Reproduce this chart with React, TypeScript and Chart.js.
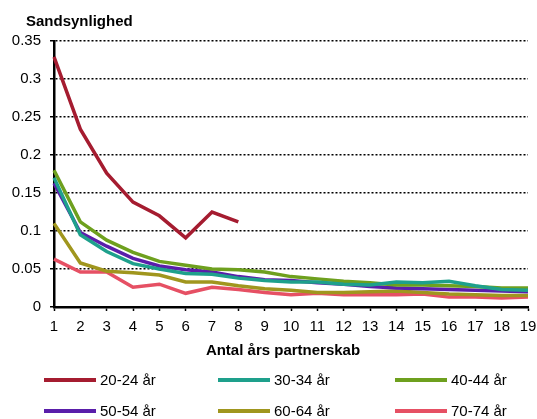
import React, { useEffect, useRef } from "react";
import { Chart, registerables } from "chart.js";

Chart.register(...registerables);

const categories = ["1","2","3","4","5","6","7","8","9","10","11","12","13","14","15","16","17","18","19"];
const seriesNames = ["20-24 år", "30-34 år", "40-44 år", "50-54 år", "60-64 år", "70-74 år"];
const seriesColors = ["#A51C30", "#1EA08C", "#6EA01E", "#5A1EAA", "#A0961E", "#E65064"];

const s2024 = [0.329, 0.234, 0.176, 0.138, 0.12, 0.091, 0.125, 0.112];
const s3034 = [0.17, 0.095, 0.073, 0.057, 0.05, 0.044, 0.043, 0.038, 0.035, 0.033, 0.033, 0.03, 0.029, 0.033, 0.032, 0.034, 0.028, 0.023, 0.022];
const s4044 = [0.18, 0.112, 0.088, 0.072, 0.06, 0.055, 0.05, 0.049, 0.046, 0.04, 0.037, 0.034, 0.032, 0.029, 0.029, 0.028, 0.027, 0.025, 0.025];
const s5054 = [0.163, 0.098, 0.08, 0.064, 0.054, 0.049, 0.046, 0.04, 0.036, 0.035, 0.032, 0.03, 0.027, 0.025, 0.024, 0.023, 0.022, 0.021, 0.02];
const s6064 = [0.11, 0.058, 0.047, 0.045, 0.042, 0.033, 0.033, 0.028, 0.024, 0.022, 0.019, 0.019, 0.02, 0.021, 0.019, 0.017, 0.016, 0.015, 0.015];
const s7074 = [0.063, 0.046, 0.046, 0.026, 0.03, 0.018, 0.026, 0.023, 0.019, 0.016, 0.018, 0.016, 0.016, 0.016, 0.017, 0.013, 0.013, 0.012, 0.013];
const seriesValues = [s2024, s3034, s4044, s5054, s6064, s7074];

const yTicks = [0, 0.05, 0.1, 0.15, 0.2, 0.25, 0.3, 0.35];
const yTitle = "Sandsynlighed";
const xTitle = "Antal års partnerskab";

const FONT = "'Liberation Sans', Arial, sans-serif";

export default function App() {
  const ref = useRef<HTMLCanvasElement | null>(null);

  useEffect(() => {
    if (!ref.current) return;
    const chart = new Chart(ref.current, {
      type: "line",
      data: {
        labels: categories,
        datasets: seriesNames.map((name, i) => ({
          label: name,
          data: seriesValues[i],
          borderColor: seriesColors[i],
          backgroundColor: seriesColors[i],
          borderWidth: 3.5,
          pointRadius: 0,
          tension: 0,
          fill: false,
        })),
      },
      options: {
        animation: false,
        responsive: false,
        devicePixelRatio: 1,
        layout: { padding: { left: 0, right: 1, top: 41, bottom: 82 } },
        plugins: {
          legend: { display: false },
          tooltip: { enabled: false },
          title: { display: false },
        },
        scales: {
          x: {
            type: "category",
            offset: false,
            afterFit: (s: any) => { s.height = 30; s.paddingRight = 9; },
            grid: {
              drawOnChartArea: false,
              drawTicks: true,
              tickLength: 4,
              tickColor: "#000",
              tickWidth: 1.5,
            },
            border: { display: true, color: "#000", width: 2.5 },
            ticks: {
              color: "#000",
              font: { family: FONT, size: 15 },
              padding: 7,
              maxRotation: 0,
              autoSkip: false,
            },
          },
          y: {
            min: 0,
            max: 0.35,
            afterFit: (s: any) => { s.width = 54; },
            afterBuildTicks: (s: any) => { s.ticks = yTicks.map((v) => ({ value: v })); },
            grid: {
              color: "#000",
              lineWidth: 1.5,
              drawTicks: true,
              tickLength: 4,
              tickColor: "#000",
              tickWidth: 1.5,
              tickBorderDash: [],
            } as any,
            border: { display: true, color: "#000", width: 2.5, dash: [2, 2] },
            ticks: {
              color: "#000",
              font: { family: FONT, size: 15 },
              padding: 9,
              callback: (v: any) => String(Math.round(Number(v) * 100) / 100),
            },
          },
        },
      },
    });
    return () => chart.destroy();
  }, []);

  const legendCols = [44, 218, 395];
  const legendRows = [380, 411];

  return (
    <div style={{ position: "fixed", left: 0, top: 0, width: 537, height: 419, background: "#fff", overflow: "hidden", fontFamily: FONT, color: "#000" }}>
      <canvas ref={ref} width={537} height={419} style={{ position: "absolute", left: 0, top: 0, width: 537, height: 419 }} />
      <div style={{ position: "absolute", left: 26, top: 11, fontWeight: "bold", fontSize: 15, lineHeight: "20px" }}>{yTitle}</div>
      <div style={{ position: "absolute", left: 0, width: 566, top: 340, textAlign: "center", fontWeight: "bold", fontSize: 15, lineHeight: "20px" }}>{xTitle}</div>
      {seriesNames.map((name, i) => {
        const col = i % 3;
        const row = Math.floor(i / 3);
        return (
          <div key={name} style={{ position: "absolute", left: legendCols[col], top: legendRows[row] - 10, height: 20, display: "flex", alignItems: "center", fontSize: 15 }}>
            <div style={{ width: 52, height: 3.5, background: seriesColors[i], marginRight: 4 }} />
            <span style={{ lineHeight: "20px" }}>{name}</span>
          </div>
        );
      })}
    </div>
  );
}
